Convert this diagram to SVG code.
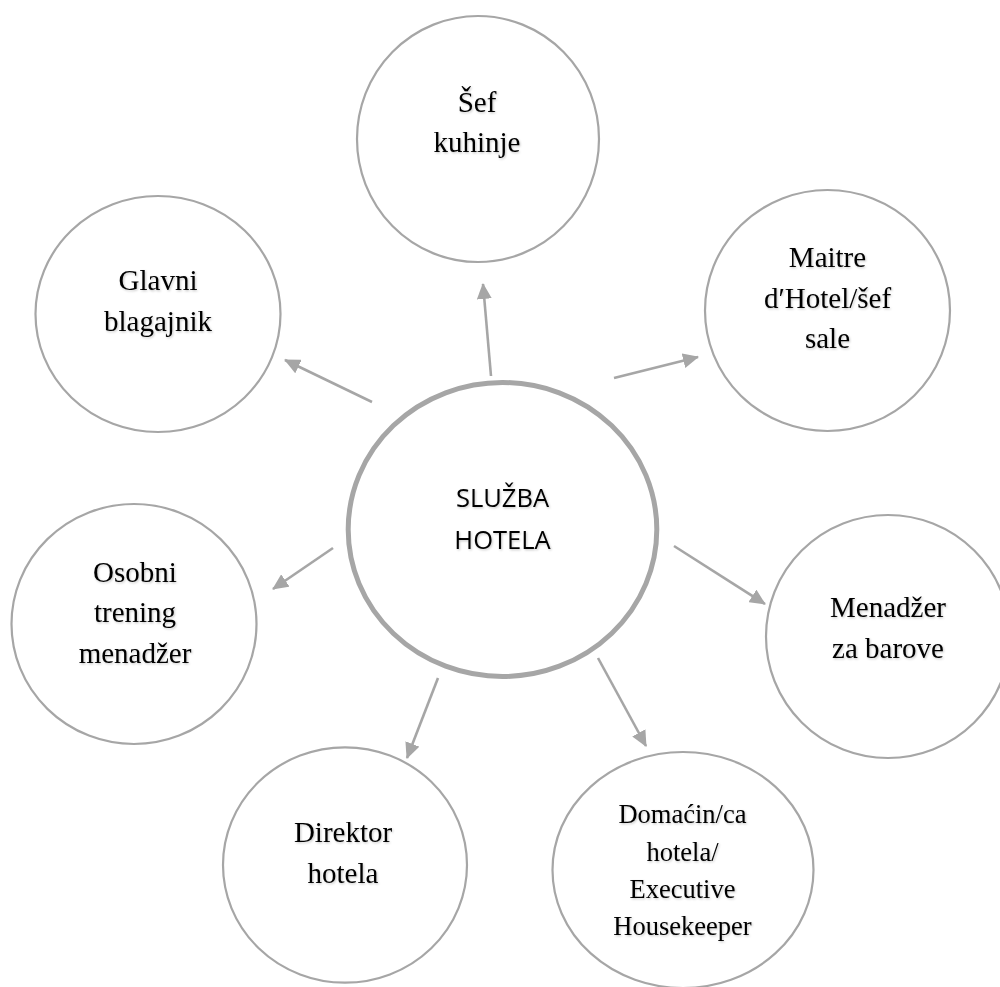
<svg xmlns="http://www.w3.org/2000/svg" width="1000" height="987" viewBox="0 0 1000 987">
  <defs>
    <marker id="arrow" markerUnits="userSpaceOnUse" markerWidth="16" markerHeight="15" viewBox="0 0 16 15" refX="15" refY="7.5" orient="auto">
      <path d="M0,0 L16,7.5 L0,15 Z" fill="#a6a6a6"/>
    </marker>
    <filter id="soft" x="-10%" y="-20%" width="130%" height="150%">
      <feDropShadow dx="1" dy="1.2" stdDeviation="0.8" flood-color="#000" flood-opacity="0.22"/>
    </filter>
  </defs>
  <style>
    .node { fill: #ffffff; stroke: #a6a6a6; stroke-width: 2.2; }
    .hub { fill: #ffffff; stroke: #a6a6a6; stroke-width: 5; }
    .lbl { font-family: "Liberation Serif", "Times New Roman", serif; font-size: 29px; fill: #000; text-anchor: middle; filter: url(#soft); }
    .lbl-sm { font-size: 26.5px; }
    .hub-lbl { font-family: "Open Sans", "Noto Sans", "Liberation Sans", sans-serif; font-size: 25.5px; fill: #000; text-anchor: middle; filter: url(#soft); }
    .edge { stroke: #a6a6a6; stroke-width: 2.6; fill: none; marker-end: url(#arrow); }
  </style>
  <rect width="1000" height="987" fill="#ffffff"/>

  <!-- arrows from the hub to each service -->
  <g id="connectors">
    <line class="edge" x1="491" y1="376" x2="483" y2="284"/>
    <line class="edge" x1="372" y1="402" x2="285" y2="360"/>
    <line class="edge" x1="614" y1="378" x2="698" y2="357"/>
    <line class="edge" x1="674" y1="546" x2="765" y2="604"/>
    <line class="edge" x1="598" y1="658" x2="646" y2="746"/>
    <line class="edge" x1="438" y1="678" x2="407" y2="758"/>
    <line class="edge" x1="333" y1="548" x2="273" y2="589"/>
  </g>

  <g id="sef-kuhinje">
    <ellipse class="node" cx="478" cy="139" rx="121" ry="123"/>
    <text class="lbl" x="477" y="112">Šef</text>
    <text class="lbl" x="477" y="152">kuhinje</text>
  </g>

  <g id="glavni-blagajnik">
    <ellipse class="node" cx="158" cy="314" rx="122.5" ry="118"/>
    <text class="lbl" x="158" y="290">Glavni</text>
    <text class="lbl" x="158" y="331">blagajnik</text>
  </g>

  <g id="maitre-dhotel">
    <ellipse class="node" cx="827.5" cy="310.5" rx="122.5" ry="120.5"/>
    <text class="lbl" x="827.5" y="267">Maitre</text>
    <text class="lbl" x="827.5" y="308">d′Hotel/šef</text>
    <text class="lbl" x="827.5" y="348">sale</text>
  </g>

  <g id="osobni-trening">
    <ellipse class="node" cx="134" cy="624" rx="122.5" ry="120"/>
    <text class="lbl" x="135" y="582">Osobni</text>
    <text class="lbl" x="135" y="622">trening</text>
    <text class="lbl" x="135" y="663">menadžer</text>
  </g>

  <g id="menadzer-barovi">
    <ellipse class="node" cx="888" cy="636.5" rx="122" ry="121.5"/>
    <text class="lbl" x="888" y="617">Menadžer</text>
    <text class="lbl" x="888" y="658">za barove</text>
  </g>

  <g id="direktor-hotela">
    <ellipse class="node" cx="345" cy="865" rx="122" ry="117.7"/>
    <text class="lbl" x="343" y="842">Direktor</text>
    <text class="lbl" x="343" y="883">hotela</text>
  </g>

  <g id="domacin-hotela">
    <ellipse class="node" cx="683" cy="870" rx="130.5" ry="118"/>
    <text class="lbl lbl-sm" x="682.5" y="823">Domaćin/ca</text>
    <text class="lbl lbl-sm" x="682.5" y="861">hotela/</text>
    <text class="lbl lbl-sm" x="682.5" y="898">Executive</text>
    <text class="lbl lbl-sm" x="682.5" y="935">Housekeeper</text>
  </g>

  <g id="sluzba-hotela">
    <ellipse class="hub" cx="502.5" cy="529.5" rx="154.3" ry="147"/>
    <text class="hub-lbl" x="502.5" y="507">SLUŽBA</text>
    <text class="hub-lbl" x="502.5" y="549">HOTELA</text>
  </g>
</svg>
